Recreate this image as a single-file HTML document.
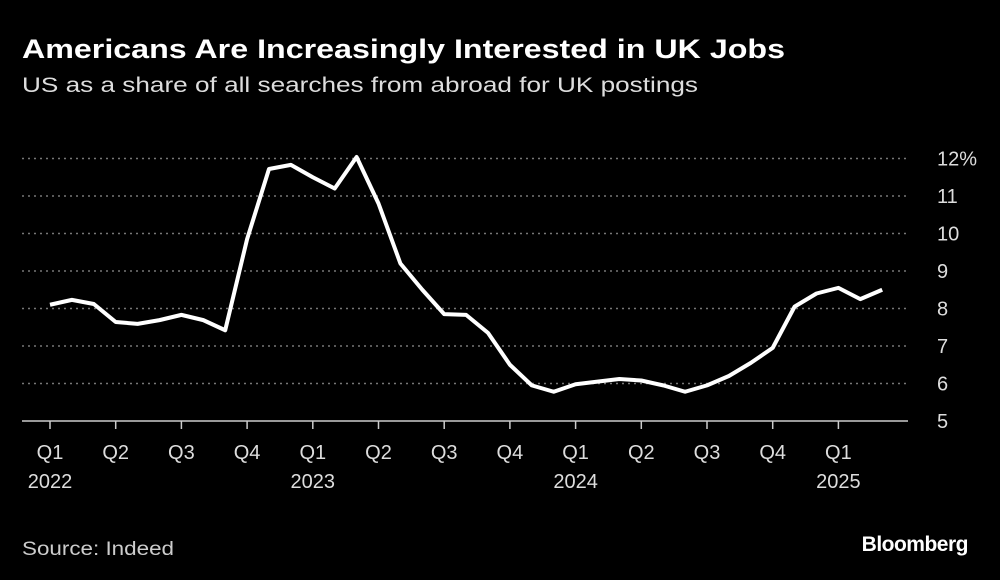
<!DOCTYPE html>
<html><head><meta charset="utf-8"><style>
html,body{margin:0;padding:0;background:#000;}
body{width:1000px;height:580px;overflow:hidden;font-family:"Liberation Sans",sans-serif;color:#fff;position:relative;}
.logo{position:absolute;right:32px;top:533px;font-size:21px;font-weight:bold;letter-spacing:-0.5px;}
svg{position:absolute;left:0;top:0;}
</style></head><body>
<div class="logo">Bloomberg</div>
<svg id="c" width="1000" height="580">
<text x="22" y="58" fill="#fff" font-size="27" font-weight="bold" textLength="763" lengthAdjust="spacingAndGlyphs" font-family="Liberation Sans,sans-serif">Americans Are Increasingly Interested in UK Jobs</text>
<text x="22" y="92" fill="#ddd" font-size="21" textLength="676" lengthAdjust="spacingAndGlyphs" font-family="Liberation Sans,sans-serif">US as a share of all searches from abroad for UK postings</text>
<text x="22" y="555" fill="#ccc" font-size="19" textLength="152" lengthAdjust="spacingAndGlyphs" font-family="Liberation Sans,sans-serif">Source: Indeed</text>
</svg>
<script>
const values=[8.1,8.23,8.12,7.64,7.59,7.69,7.83,7.69,7.42,9.85,11.72,11.83,11.5,11.2,12.04,10.8,9.2,8.5,7.85,7.83,7.35,6.5,5.95,5.78,5.98,6.05,6.12,6.08,5.95,5.78,5.95,6.2,6.55,6.95,8.05,8.4,8.55,8.25,8.5];
const yTicks=[5,6,7,8,9,10,11,12];
const yTickLabels=["5","6","7","8","9","10","11","12%"];
const qLabels=["Q1","Q2","Q3","Q4","Q1","Q2","Q3","Q4","Q1","Q2","Q3","Q4","Q1"];
const yearLabels=["2022","","","","2023","","","","2024","","","","2025"];
const svg=document.getElementById('c');const NS='http://www.w3.org/2000/svg';
const x=i=>50+i*21.9;
const y=v=>421-(v-5)*37.5;
function mk(t,a){const e=document.createElementNS(NS,t);for(const k in a)e.setAttribute(k,a[k]);svg.appendChild(e);return e;}
yTicks.forEach((v,i)=>{
 if(v>5){const g=mk('line',{x1:22,x2:908,y1:y(v),y2:y(v),stroke:'#777','stroke-width':1.5,'stroke-dasharray':'2,4'});
 
 }
 const t=mk('text',{x:937,y:y(v)+7,fill:'#ddd','font-size':20,'font-family':'Liberation Sans,sans-serif'});
 t.textContent=yTickLabels[i];
 
 
});
const ax=mk('line',{x1:22,x2:908,y1:421,y2:421,stroke:'#ccc','stroke-width':1.5});


qLabels.forEach((q,i)=>{
 const xx=x(i*3);
 const tk=mk('line',{x1:xx,x2:xx,y1:421,y2:429,stroke:'#ccc','stroke-width':1.5});
 
 
 const t=mk('text',{x:xx,y:459,fill:'#ddd','font-size':20,'text-anchor':'middle','font-family':'Liberation Sans,sans-serif'});
 t.textContent=q;
 
 
 if(yearLabels[i]){const yt=mk('text',{x:xx,y:488,fill:'#ddd','font-size':20,'text-anchor':'middle','font-family':'Liberation Sans,sans-serif'});
 yt.textContent=yearLabels[i];
 
 }
});
const p=mk('polyline',{points:values.map((v,i)=>x(i)+','+y(v)).join(' '),fill:'none',stroke:'#fff','stroke-width':4,'stroke-linejoin':'round'});


</script>
</body></html>
